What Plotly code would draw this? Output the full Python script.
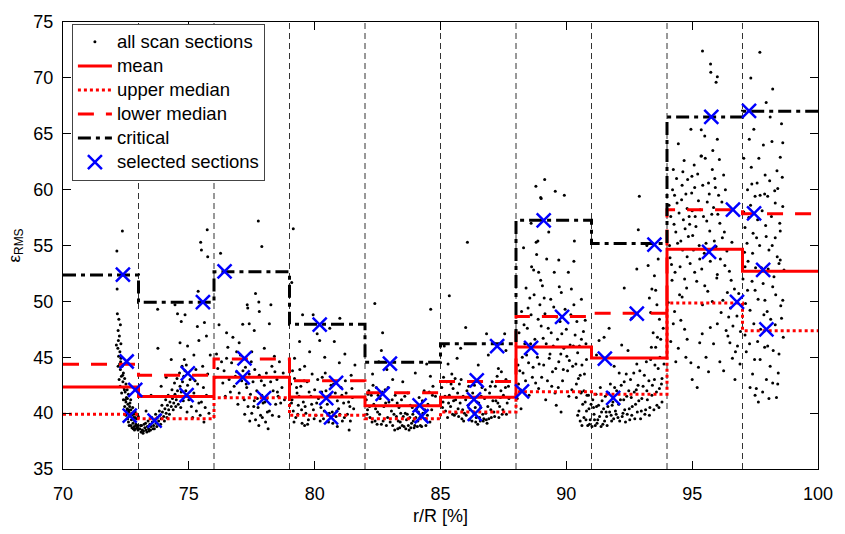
import plotly.graph_objects as go

# ---------------- data ----------------
section_edges = [70, 73, 76, 79, 82, 85, 88, 91, 94, 97, 100]
section_bounds = [73, 76, 79, 82, 85, 88, 91, 94, 97]

mean_vals = [42.33, 41.48, 43.22, 41.44, 40.67, 41.42, 45.91, 44.94, 54.67, 52.70]
upper_median_vals = [39.89, 39.50, 41.37, 39.80, 39.50, 40.09, 41.91, 41.69, 49.85, 47.38]
lower_median_vals = [44.38, 43.40, 44.85, 42.90, 41.83, 42.82, 48.65, 48.94, 58.21, 57.85]
critical_vals = [52.37, 49.93, 52.64, 47.95, 44.56, 46.20, 57.27, 55.17, 66.49, 67.02]

sel_x = [72.38, 72.53, 72.87, 72.65,
         75.56, 74.96, 74.91, 73.64,
         76.42, 77.21, 77.14, 77.99,
         80.20, 80.85, 80.46, 80.65,
         82.99, 82.70, 84.17, 84.25,
         87.25, 86.44, 86.33, 86.36,
         89.10, 89.83, 88.60, 88.24,
         93.50, 92.80, 91.53, 91.86,
         95.76, 96.62, 95.67, 96.78,
         97.26, 97.46, 97.82, 97.95]
sel_y = [52.39, 44.62, 42.09, 39.77,
         49.93, 43.55, 41.60, 39.33,
         52.68, 44.90, 43.20, 41.34,
         47.92, 42.70, 41.34, 39.63,
         44.44, 41.72, 40.70, 39.72,
         46.00, 42.94, 41.22, 39.94,
         57.24, 48.62, 45.84, 41.95,
         55.07, 48.90, 44.88, 41.37,
         66.52, 58.20, 54.43, 49.95,
         67.04, 57.87, 52.82, 47.49]

sec1_pts = [(72.36,56.3),(72.14,54.5),(72.15,51.1),(72.16,48.9),(72.22,48.4),(72.28,47.9),(72.19,47.4),
 (72.24,46.9),(72.2,46.5),(72.3,46.2),(72.18,45.8),(72.26,45.5),(72.21,45.1),(72.3,44.9),(72.25,44.4),
 (72.35,44.2),(72.28,43.9),(72.4,43.6),(72.32,43.3),(72.45,43.1),(72.38,42.8),(72.5,42.6),(72.42,42.3),
 (72.55,42.1),(72.47,41.9),(72.6,41.7),(72.52,41.4),(72.5,41.0),(72.58,40.8),(72.65,40.6),(72.55,40.4),
 (72.7,40.3),(72.62,40.1),(72.75,39.9),(72.68,39.7),(72.8,39.6),(72.72,39.4),(72.85,39.3),(72.78,39.1),
 (72.9,39.0),(72.83,38.8),(72.95,38.7),(72.88,38.6),(72.6,39.2),(72.7,38.9),(72.98,38.5),(72.92,39.5),
 (72.45,40.6),(72.5,39.8),(72.52,40.2),(72.57,39.5),(72.63,38.9),(72.66,40.9),(72.71,39.8),(72.74,38.7),
 (72.77,40.5),(72.81,39.9),(72.84,38.5),(72.87,40.1),(72.91,38.9),(72.94,39.9),(72.97,38.9),(72.99,39.7),
 (72.56,41.3),(72.61,40.3),(72.69,41.2),(72.73,40.0),(72.79,38.6),(72.86,39.6),(72.48,41.2),(72.44,42.1),
 (72.37,43.4),(72.29,44.6),(72.23,43.0),(72.33,41.8),(72.4,41.2),(72.19,44.2),(72.12,46.1),(72.27,42.4)]
sec2_pts = [(73.05,38.6),(73.1,38.3),(73.15,38.5),(73.2,38.4),(73.25,38.7),(73.3,38.5),(73.35,38.8),
 (73.4,38.6),(73.45,39.0),(73.5,38.8),(73.55,39.2),(73.6,38.9),(73.65,39.4),(73.7,39.1),(73.75,39.6),
 (73.8,39.3),(73.85,39.8),(73.9,39.5),(73.95,40.1),(74.0,39.7),(74.05,40.4),(74.1,40.0),(74.15,40.7),
 (74.2,40.3),(74.25,41.0),(74.3,40.6),(74.35,41.3),(74.4,40.9),(74.45,41.7),(74.5,41.2),(74.55,42.0),
 (74.6,41.5),(74.65,42.4),(74.7,41.9),(74.75,42.8),(74.8,43.3),(74.85,43.8),(74.9,44.3),(74.82,44.8),
 (74.95,42.5),(75.0,41.2),(75.1,40.6),(75.2,41.8),(75.3,40.2),(75.35,42.6),(75.45,39.8),(75.5,41.0),
 (75.6,39.2),(75.65,40.5),(75.75,43.5),(75.55,44.2),(73.77,45.8),(73.76,49.3),(74.45,49.7),(74.55,48.9),
 (74.7,48.2),(74.85,48.8),(74.65,46.3),(74.3,44.8),(74.1,43.2),(73.9,42.4),(75.37,50.9),(75.34,47.75),
 (75.4,46.5),(75.7,46.9),(75.47,55.3),(75.73,56.4),(75.75,54.0),(75.5,54.6),(73.5,41.6),(73.3,40.2),
 (75.2,45.2),(74.95,46.0),(73.12,38.9),(73.28,39.1),(73.42,38.4),(73.58,38.6),
 (73.08,38.9),(73.18,38.2),(73.22,39.0),(73.33,38.3),(73.38,39.3),(73.48,38.5),(73.53,39.6),(73.63,38.6),
 (73.68,39.9),(73.73,38.8),(73.83,40.2),(73.88,39.0),(73.93,40.7),(74.03,39.3),(74.08,41.2),(74.13,39.6),
 (74.18,41.6),(74.23,39.9),(74.33,42.1),(74.38,40.3),(74.43,42.7),(74.48,40.6),(74.53,43.1),(74.58,40.8),
 (74.63,43.6),(74.68,40.5),(74.73,44.2),(74.78,41.1),(74.88,42.0),(74.93,40.1),(75.05,43.0),(75.15,39.6),
 (75.25,42.9),(75.4,40.9),(75.58,42.3),(75.7,41.6),(75.8,40.0),(75.85,45.2),(75.62,48.1),(75.28,43.9)]
sec3_pts = [(76.26,54.3),(76.2,47.9),(76.5,47.2),(77.32,49.7),(77.34,49.4),(77.65,50.7),(77.78,49.95),
 (77.8,49.1),(78.26,49.7),(78.2,48.0),(77.76,57.2),(77.9,54.9),(77.14,47.95),(77.4,48.0),(77.6,47.4),
 (76.1,45.3),(76.3,44.6),(76.4,43.8),(76.55,45.9),(76.6,43.0),(76.7,44.5),(76.8,42.4),(76.9,43.7),
 (77.0,41.8),(77.05,45.2),(77.1,42.9),(77.2,41.2),(77.25,44.1),(77.3,42.3),(77.35,40.6),(77.4,43.5),
 (77.45,41.7),(77.5,40.0),(77.55,42.8),(77.6,41.1),(77.65,39.4),(77.7,42.0),(77.75,40.5),(77.8,43.4),
 (77.85,39.8),(77.9,41.6),(77.95,40.9),(78.0,42.5),(78.05,39.2),(78.1,41.3),(78.15,38.6),(78.2,40.2),
 (78.3,44.2),(78.35,42.0),(78.4,45.1),(78.45,40.8),(78.5,43.0),(78.55,41.5),(78.6,44.6),(78.7,42.3),
 (77.0,46.3),(76.75,46.8),(78.0,45.8),(77.5,45.5),(76.45,41.5),
 (76.05,43.2),(76.15,44.0),(76.35,42.7),(76.5,44.9),(76.65,41.9),(76.85,43.3),(76.95,40.8),(77.15,43.8),
 (77.22,39.9),(77.28,42.6),(77.42,39.3),(77.48,44.6),(77.58,40.6),(77.62,43.9),(77.72,41.3),(77.78,38.9),
 (77.88,42.9),(77.92,39.6),(78.02,41.0),(78.08,43.6),(78.12,40.1),(78.25,42.8),(78.32,39.8),(78.42,43.7),
 (78.52,41.9),(78.58,39.7),(78.65,40.9),(78.75,43.6),(78.8,41.2),(76.9,45.5)]
sec4_pts = [(79.15,56.5),(79.09,51.7),(79.52,48.8),(79.94,48.8),(80.1,47.1),(80.2,46.5),(80.78,46.4),
 (79.8,45.5),(79.41,43.9),(80.98,44.5),(79.4,46.4),(79.2,44.9),(79.6,44.2),(79.9,43.5),(80.4,45.0),
 (81.2,45.3),(80.6,47.6),(81.0,48.5),(79.05,42.6),(79.1,41.2),(79.15,40.2),(79.2,43.1),(79.25,39.6),
 (79.3,41.8),(79.35,40.7),(79.45,42.4),(79.5,39.1),(79.55,41.0),(79.65,40.0),(79.7,42.8),(79.75,39.4),
 (79.85,41.5),(79.95,40.3),(80.0,42.1),(80.05,39.8),(80.15,41.3),(80.25,40.5),(80.3,43.2),(80.35,39.5),
 (80.45,42.0),(80.5,40.8),(80.55,39.2),(80.6,41.6),(80.7,40.1),(80.75,42.6),(80.85,39.7),(80.9,41.1),
 (80.95,40.4),(81.05,42.3),(81.1,39.3),(81.15,40.9),(81.25,41.8),(81.3,39.9),(81.37,38.5),(81.4,40.6),
 (81.45,43.4),(81.5,41.4),(79.6,38.9),(80.9,38.8),
 (79.08,40.9),(79.12,43.8),(79.18,39.2),(79.28,42.3),(79.33,39.9),(79.38,41.5),(79.48,40.3),(79.58,42.9),
 (79.62,40.6),(79.72,39.0),(79.78,41.9),(79.88,40.8),(79.98,39.5),(80.08,40.9),(80.12,43.0),(80.22,39.3),
 (80.28,41.9),(80.38,40.2),(80.42,43.6),(80.52,41.5),(80.58,40.0),(80.65,42.5),(80.72,39.1),(80.82,41.8),
 (80.88,40.2),(81.0,39.9),(81.08,41.6),(81.18,39.6),(81.22,42.9),(81.35,41.0),(81.42,39.3),(81.48,42.2),
 (81.55,40.4),(81.6,44.3)]
sec5_pts = [(82.39,49.8),(84.61,49.3),(82.65,45.6),(82.87,43.9),(82.55,44.6),(82.3,43.5),(83.1,43.0),
 (83.5,42.8),(84.0,43.6),(84.6,43.3),(84.7,42.4),(84.8,41.5),(84.45,44.4),(82.7,47.2),(82.05,41.2),
 (82.1,40.3),(82.15,42.0),(82.2,39.6),(82.25,41.6),(82.35,40.8),(82.4,39.3),(82.45,42.3),(82.5,40.1),
 (82.6,41.3),(82.65,39.0),(82.75,40.6),(82.8,42.1),(82.9,39.6),(82.95,41.0),(83.05,40.2),(83.1,38.9),
 (83.2,41.6),(83.25,39.7),(83.3,38.6),(83.35,40.5),(83.4,39.2),(83.45,41.2),(83.55,38.8),(83.6,40.0),
 (83.65,39.4),(83.7,41.8),(83.75,38.5),(83.8,40.7),(83.85,39.1),(83.9,39.9),(83.95,38.7),(84.05,40.4),
 (84.1,39.3),(84.15,41.4),(84.2,38.9),(84.3,40.0),(84.35,42.0),(84.4,39.5),(84.5,40.8),(84.55,41.9),
 (84.65,40.3),
 (82.08,39.9),(82.12,41.7),(82.18,40.6),(82.28,39.2),(82.32,42.5),(82.42,40.4),(82.48,39.0),(82.52,41.6),
 (82.58,39.9),(82.68,41.9),(82.72,39.3),(82.82,40.9),(82.85,38.9),(82.92,42.3),(83.0,39.2),(83.08,41.2),
 (83.15,39.9),(83.18,38.5),(83.28,40.9),(83.32,39.3),(83.38,38.7),(83.42,40.0),(83.48,38.9),(83.52,39.7),
 (83.58,41.5),(83.62,38.6),(83.68,39.9),(83.72,38.9),(83.78,39.6),(83.82,38.7),(83.88,40.5),(83.92,39.3),
 (83.98,38.9),(84.02,39.6),(84.08,38.8),(84.12,40.1),(84.18,39.6),(84.25,38.8),(84.28,41.1),(84.38,40.3),
 (84.42,38.9),(84.48,39.8),(84.58,39.2),(84.68,41.6)]
sec6_pts = [(86.07,55.3),(85.35,50.5),(86.0,47.66),(86.83,47.1),(87.55,47.1),(85.66,44.9),(85.3,44.4),
 (85.45,43.5),(85.8,45.8),(86.5,44.3),(86.9,45.2),(87.3,44.0),(87.6,45.6),(87.1,46.3),(85.15,46.0),
 (85.05,42.3),(85.1,41.0),(85.2,40.2),(85.25,42.8),(85.35,41.6),(85.4,40.6),(85.5,42.2),(85.55,39.8),
 (85.6,41.2),(85.7,40.4),(85.75,42.6),(85.85,39.5),(85.9,41.5),(85.95,40.0),(86.05,42.0),(86.1,40.7),
 (86.15,39.4),(86.2,41.4),(86.3,40.1),(86.35,42.5),(86.4,39.2),(86.45,41.0),(86.55,39.6),(86.6,40.5),
 (86.65,42.3),(86.7,39.3),(86.75,41.3),(86.8,40.0),(86.85,39.1),(86.95,41.8),(87.0,40.3),(87.05,42.8),
 (87.15,39.7),(87.2,41.1),(87.25,43.3),(87.35,40.6),(87.4,42.0),(87.45,39.9),(87.5,41.6),(87.6,43.0),
 (87.65,40.9),(87.7,42.4),
 (85.08,40.5),(85.12,43.2),(85.18,41.5),(85.28,39.6),(85.32,40.9),(85.42,42.6),(85.48,39.9),(85.52,41.1),
 (85.58,43.1),(85.62,40.0),(85.68,41.8),(85.72,39.7),(85.78,40.9),(85.82,43.0),(85.88,40.3),(85.92,39.3),
 (86.0,41.2),(86.02,39.8),(86.12,42.4),(86.18,40.3),(86.25,39.3),(86.28,41.8),(86.38,40.5),(86.42,39.6),
 (86.48,39.0),(86.52,40.9),(86.58,39.3),(86.62,41.5),(86.68,39.9),(86.72,39.5),(86.78,42.1),(86.82,39.4),
 (86.88,40.6),(86.92,39.5),(86.98,42.4),(87.02,39.6),(87.08,41.1),(87.12,40.1),(87.18,42.4),(87.28,40.9),
 (87.32,39.6),(87.38,41.4),(87.42,43.7),(87.48,40.3),(87.58,42.3),(87.62,39.9),(87.72,41.3)]
sec7_pts = [(88.79,60.3),(88.98,59.3),(89.14,60.9),(89.56,59.85),(89.92,59.5),(89.0,59.2),(88.8,55.3),
 (88.82,54.2),(88.3,54.8),(88.7,52.8),(88.87,55.4),(90.32,55.4),(89.7,53.7),(90.3,53.6),(88.9,52.6),
 (89.05,51.4),(88.95,49.7),(89.8,50.8),(90.2,51.1),(90.3,49.7),(89.79,40.1),(89.6,40.7),(90.8,44.8),
 (88.4,51.2),(88.55,50.3),(88.6,48.8),(88.45,47.6),(88.35,46.2),(88.25,45.0),(88.15,43.8),(88.1,42.6),
 (88.05,41.3),(88.2,40.4),(88.5,44.5),(88.65,43.2),(88.75,46.6),(88.85,45.0),(88.9,42.2),(89.0,47.8),
 (89.1,44.3),(89.15,48.9),(89.2,46.2),(89.25,42.9),(89.35,45.3),(89.4,47.2),(89.45,43.7),(89.5,49.5),
 (89.55,41.8),(89.65,46.6),(89.7,44.6),(89.75,48.2),(89.85,42.9),(89.9,45.8),(90.0,47.5),(90.05,43.8),
 (90.1,41.5),(90.15,46.1),(90.25,44.2),(90.35,47.0),(90.4,42.6),(90.45,45.4),(90.55,43.4),(90.6,46.6),
 (90.7,42.0),(90.75,48.3),(88.6,57.0),(89.3,56.2),(90.6,50.2),
 (88.08,44.3),(88.12,47.2),(88.18,42.1),(88.22,49.1),(88.28,43.6),(88.32,47.9),(88.38,42.9),(88.42,45.2),
 (88.48,49.4),(88.52,41.6),(88.58,46.2),(88.62,53.1),(88.68,44.1),(88.72,50.6),(88.78,42.7),(88.88,48.4),
 (88.92,44.4),(88.98,51.9),(89.02,43.2),(89.08,46.7),(89.12,50.3),(89.18,41.2),(89.22,53.8),(89.28,47.6),
 (89.32,44.9),(89.38,50.2),(89.42,42.4),(89.48,46.0),(89.52,52.6),(89.58,44.0),(89.62,48.6),(89.68,42.3),
 (89.72,51.3),(89.78,45.3),(89.82,47.1),(89.88,43.9),(89.95,49.3),(90.02,45.1),(90.08,52.6),(90.12,44.7),
 (90.18,48.8),(90.22,42.1),(90.28,46.0),(90.38,44.4),(90.42,48.2),(90.48,43.1),(90.52,46.0),(90.58,41.8),
 (90.62,44.3),(90.68,47.3),(90.72,43.5),(90.78,46.2),(90.82,41.6)]
sec8_pts = [(92.9,59.4),(92.86,56.4),(92.8,52.9),(93.25,53.2),(93.4,51.1),(93.6,49.7),(93.3,50.3),
 (93.5,52.3),(93.7,48.4),(93.45,47.2),(93.55,45.9),(93.75,46.6),(93.35,44.8),(93.65,44.0),(93.8,43.1),
 (91.3,46.5),(91.5,46.8),(92.2,46.1),(92.45,45.6),(92.8,44.4),(91.9,44.2),(92.1,43.6),(90.4,41.4),
 (90.5,40.2),(90.55,39.3),(90.65,40.8),(90.7,39.6),(90.75,41.0),(90.85,38.9),(90.9,40.4),(90.95,39.4),
 (91.05,41.2),(91.1,39.9),(91.15,38.9),(91.2,40.6),(91.25,39.4),(91.35,42.3),(91.4,40.1),(91.45,39.0),
 (91.55,41.5),(91.6,39.7),(91.65,40.6),(91.75,42.6),(91.8,39.3),(91.85,41.0),(91.95,40.2),(92.0,42.0),
 (92.05,39.6),(92.15,41.2),(92.25,40.0),(92.3,42.8),(92.35,39.2),(92.4,41.5),(92.5,40.4),(92.55,43.0),
 (92.6,39.8),(92.7,41.9),(92.75,40.8),(92.85,42.5),(92.95,39.5),(93.0,41.3),(93.1,43.4),(93.15,40.3),
 (93.2,42.0),(93.3,39.8),(93.4,41.6),(93.5,43.0),(93.6,40.7),(93.7,42.2),(93.8,41.0),
 (90.45,39.8),(90.6,41.9),(90.62,38.9),(90.78,39.4),(90.8,40.2),(90.88,41.6),(90.92,39.0),(90.98,40.8),
 (91.02,38.8),(91.08,40.5),(91.12,39.4),(91.18,41.7),(91.22,39.1),(91.28,40.7),(91.32,39.7),(91.38,38.8),
 (91.42,41.1),(91.48,40.4),(91.52,39.3),(91.58,40.1),(91.62,38.9),(91.68,41.8),(91.72,40.1),(91.78,39.8),
 (91.82,40.7),(91.88,39.5),(91.92,42.3),(91.98,39.9),(92.08,40.8),(92.12,39.3),(92.18,42.5),(92.22,39.7),
 (92.28,41.2),(92.32,40.3),(92.38,43.5),(92.42,39.9),(92.48,42.0),(92.52,39.4),(92.58,41.4),(92.62,40.6),
 (92.68,43.6),(92.72,39.5),(92.78,42.1),(92.82,40.1),(92.88,41.1),(92.92,43.8),(92.98,40.2),(93.05,42.4),
 (93.12,39.9),(93.18,44.6),(93.22,41.2),(93.28,42.9),(93.32,40.5),(93.38,45.9),(93.42,42.5),(93.48,40.3),
 (93.52,44.3),(93.58,41.9),(93.62,46.8),(93.68,40.5),(93.72,45.0),(93.78,42.6),(93.85,47.6),(93.88,44.4),
 (93.35,49.0),(93.55,51.0),(93.65,53.8),(93.2,55.0),(92.6,48.5),(92.3,51.2),(91.7,47.6),(91.2,45.2)]
sec9_pts = [(95.41,72.4),(95.73,71.25),(95.74,70.5),(96.0,70.1),(95.95,69.6),(95.36,65.35),(95.5,64.8),
 (96.0,64.5),(94.95,65.4),(94.45,64.1),(95.35,63.0),(94.99,61.2),(95.8,61.8),(95.9,61.0),(94.25,61.8),
 (94.6,60.4),(94.3,59.5),(94.63,61.6),(95.37,63.0),(94.8,58.3),(94.9,56.9),(94.8,54.0),(94.18,53.3),
 (94.7,52.0),(95.5,51.4),(96.0,52.4),(94.6,50.4),(94.8,46.6),(95.3,46.3),(95.65,43.7),(95.2,42.3),
 (96.1,44.6),(96.7,43.0),(95.41,49.7),(95.72,47.66),(94.7,47.5),(94.3,49.1),(94.5,50.6),(95.4,47.1),
 (94.15,57.6),(94.35,56.2),(94.4,58.8),(94.55,55.4),(94.65,57.3),(94.75,59.6),(94.85,55.8),(95.0,58.1),
 (95.05,54.6),(95.1,60.2),(95.15,56.7),(95.25,59.0),(95.3,53.8),(95.45,57.6),(95.55,55.2),(95.6,58.9),
 (95.65,60.6),(95.7,56.3),(95.85,58.4),(95.95,54.9),(96.05,59.5),(96.1,57.0),(96.2,55.7),(96.25,61.3),
 (96.3,53.2),(96.4,50.8),(96.45,48.6),(96.5,46.3),(96.55,51.9),(96.6,44.9),(96.35,47.4),(94.2,51.9),
 (94.1,55.0),(94.25,48.0),(94.45,45.8),(94.95,44.5),(95.1,52.6),(95.8,50.0),(96.15,49.0),(96.8,46.0),
 (96.9,44.4),
 (94.08,58.6),(94.12,53.9),(94.22,60.0),(94.28,56.9),(94.32,52.6),(94.38,61.0),(94.42,55.2),(94.48,57.9),
 (94.52,53.1),(94.58,59.1),(94.62,54.6),(94.68,62.6),(94.72,56.5),(94.78,51.2),(94.82,60.9),(94.88,57.6),
 (94.92,53.4),(94.98,59.7),(95.02,55.9),(95.08,62.2),(95.12,57.6),(95.18,51.8),(95.22,61.4),(95.28,55.0),
 (95.32,58.2),(95.38,52.9),(95.42,60.4),(95.48,54.3),(95.52,62.8),(95.58,57.2),(95.62,50.9),(95.68,59.6),
 (95.72,53.6),(95.78,57.8),(95.82,63.5),(95.88,55.4),(95.92,60.2),(95.98,52.1),(96.02,57.8),(96.08,62.7),
 (96.12,53.8),(96.18,58.9),(96.22,50.1),(96.28,56.2),(96.32,60.0),(96.38,54.5),(96.42,46.9),(96.48,52.7),
 (96.52,49.4),(96.58,55.3),(96.62,47.8),(96.68,51.1),(96.72,45.5),(96.78,48.7),(96.85,50.7),(96.92,47.3),
 (94.05,49.9),(94.15,46.4),(94.35,44.6),(94.55,48.3),(94.75,45.0),(95.0,43.0),(95.55,45.0),(95.85,46.2),
 (96.0,48.0),(95.25,44.1),(96.25,43.8)]
sec10_pts = [(97.69,72.3),(97.33,70.0),(98.2,69.0),(97.94,67.8),(98.55,65.9),(97.27,64.5),(97.83,64.0),
 (98.17,64.3),(97.65,62.8),(98.5,62.9),(97.9,61.3),(98.37,61.7),(97.37,60.5),(97.5,59.4),(97.7,59.5),
 (97.88,59.6),(98.0,59.4),(98.3,58.8),(97.1,56.6),(97.94,55.8),(97.56,55.7),(98.3,55.7),(98.5,56.3),
 (97.18,55.2),(98.5,53.7),(98.45,53.4),(97.1,53.1),(97.5,51.0),(97.2,51.0),(97.89,50.1),(98.2,51.3),
 (98.6,50.1),(97.1,47.0),(98.3,47.9),(97.63,41.0),(98.35,41.4),(97.05,58.0),(97.25,57.5),(97.4,54.3),
 (97.6,57.3),(97.75,53.0),(98.05,54.6),(98.15,57.6),(98.25,52.2),(98.4,60.1),(98.6,58.5),(97.3,49.2),
 (97.45,48.0),(97.6,46.4),(97.7,44.8),(97.85,48.8),(98.0,46.0),(98.1,44.2),(98.2,42.7),(98.45,45.3),
 (98.55,48.5),(97.4,43.5),(97.55,42.2),(97.95,43.0),(98.65,52.8),(97.15,45.5),(97.35,62.0),
 (97.02,52.0),(97.08,54.4),(97.12,49.8),(97.22,53.6),(97.28,46.2),(97.32,58.6),(97.38,51.8),(97.42,56.1),
 (97.48,44.8),(97.52,53.0),(97.58,60.6),(97.62,50.2),(97.68,55.0),(97.72,47.5),(97.78,58.1),(97.82,51.6),
 (97.88,45.9),(97.92,56.8),(97.98,49.1),(98.02,52.9),(98.08,60.8),(98.12,48.4),(98.18,55.0),(98.22,45.6),
 (98.28,59.9),(98.32,50.6),(98.38,54.0),(98.42,43.6),(98.48,57.0),(98.52,49.6),(98.58,61.1),(98.62,46.8),
 (97.3,42.3),(97.5,41.6),(97.8,41.9),(98.05,41.3),(98.4,42.6),(97.2,60.0),(97.45,65.4),(97.05,62.8),
 (98.1,66.5),(98.6,64.2)]

all_sections = [sec1_pts, sec2_pts, sec3_pts, sec4_pts, sec5_pts,
                sec6_pts, sec7_pts, sec8_pts, sec9_pts, sec10_pts]

legend_names = ["all scan sections", "mean", "upper median", "lower median",
                "critical", "selected sections"]

# ---------------- figure ----------------
FONT = "Liberation Sans, Arial, Helvetica, sans-serif"
scan_x = [p[0] for sec in all_sections for p in sec]
scan_y = [p[1] for sec in all_sections for p in sec]


def stairs(vals):
    return vals + [vals[-1]]


def lname(s):
    return '<span style="font-size:18.5px">' + s + '</span>'


fig = go.Figure()

for b in section_bounds:
    fig.add_vline(x=b, line=dict(color="#333333", width=1, dash="6px,4px"), layer="below")

fig.add_trace(go.Scatter(x=scan_x, y=scan_y, mode="markers", name=lname(legend_names[0]),
                         marker=dict(color="black", size=3)))
fig.add_trace(go.Scatter(x=section_edges, y=stairs(mean_vals), mode="lines", name=lname(legend_names[1]),
                         line=dict(color="#ff0000", width=3, shape="hv")))
fig.add_trace(go.Scatter(x=section_edges, y=stairs(upper_median_vals), mode="lines",
                         name=lname(legend_names[2]),
                         line=dict(color="#ff0000", width=3, shape="hv", dash="3px,3px")))
fig.add_trace(go.Scatter(x=section_edges, y=stairs(lower_median_vals), mode="lines",
                         name=lname(legend_names[3]),
                         line=dict(color="#ff0000", width=3, shape="hv", dash="16px,12px")))
fig.add_trace(go.Scatter(x=section_edges, y=stairs(critical_vals), mode="lines",
                         name=lname(legend_names[4]),
                         line=dict(color="black", width=3, shape="hv", dash="13px,5px,4px,5px")))
fig.add_trace(go.Scatter(x=sel_x, y=sel_y, mode="markers", name=lname(legend_names[5]),
                         marker=dict(symbol="x-thin", size=14, color="#0000ff",
                                     line=dict(color="#0000ff", width=2.5))))

axis_common = dict(showline=True, linecolor="black", linewidth=1, mirror="ticks",
                   ticks="inside", ticklen=8, tickcolor="black", showgrid=False,
                   zeroline=False, tickfont=dict(family=FONT, size=18, color="black"))

fig.update_layout(
    width=845, height=534,
    margin=dict(l=63, r=16, t=16, b=58),
    paper_bgcolor="white", plot_bgcolor="white",
    font=dict(family=FONT, size=18, color="black"),
    xaxis=dict(range=[70, 100], tickmode="linear", tick0=70, dtick=5,
               title=dict(text="r/R [%]", font=dict(family=FONT, size=18), standoff=6),
               ticklabelstandoff=8, **axis_common),
    yaxis=dict(range=[35, 75], tickmode="linear", tick0=35, dtick=5,
               title=dict(text="ε<sub>RMS</sub>", font=dict(family=FONT, size=17), standoff=8),
               ticklabelstandoff=5, **axis_common),
    legend=dict(x=0.0118, y=0.996, xanchor="left", yanchor="top",
                bgcolor="white", bordercolor="#444444", borderwidth=1,
                font=dict(family=FONT, size=16.2, color="black"),
                tracegroupgap=0, itemwidth=34),
    showlegend=True,
)

fig.write_html("out.html")
